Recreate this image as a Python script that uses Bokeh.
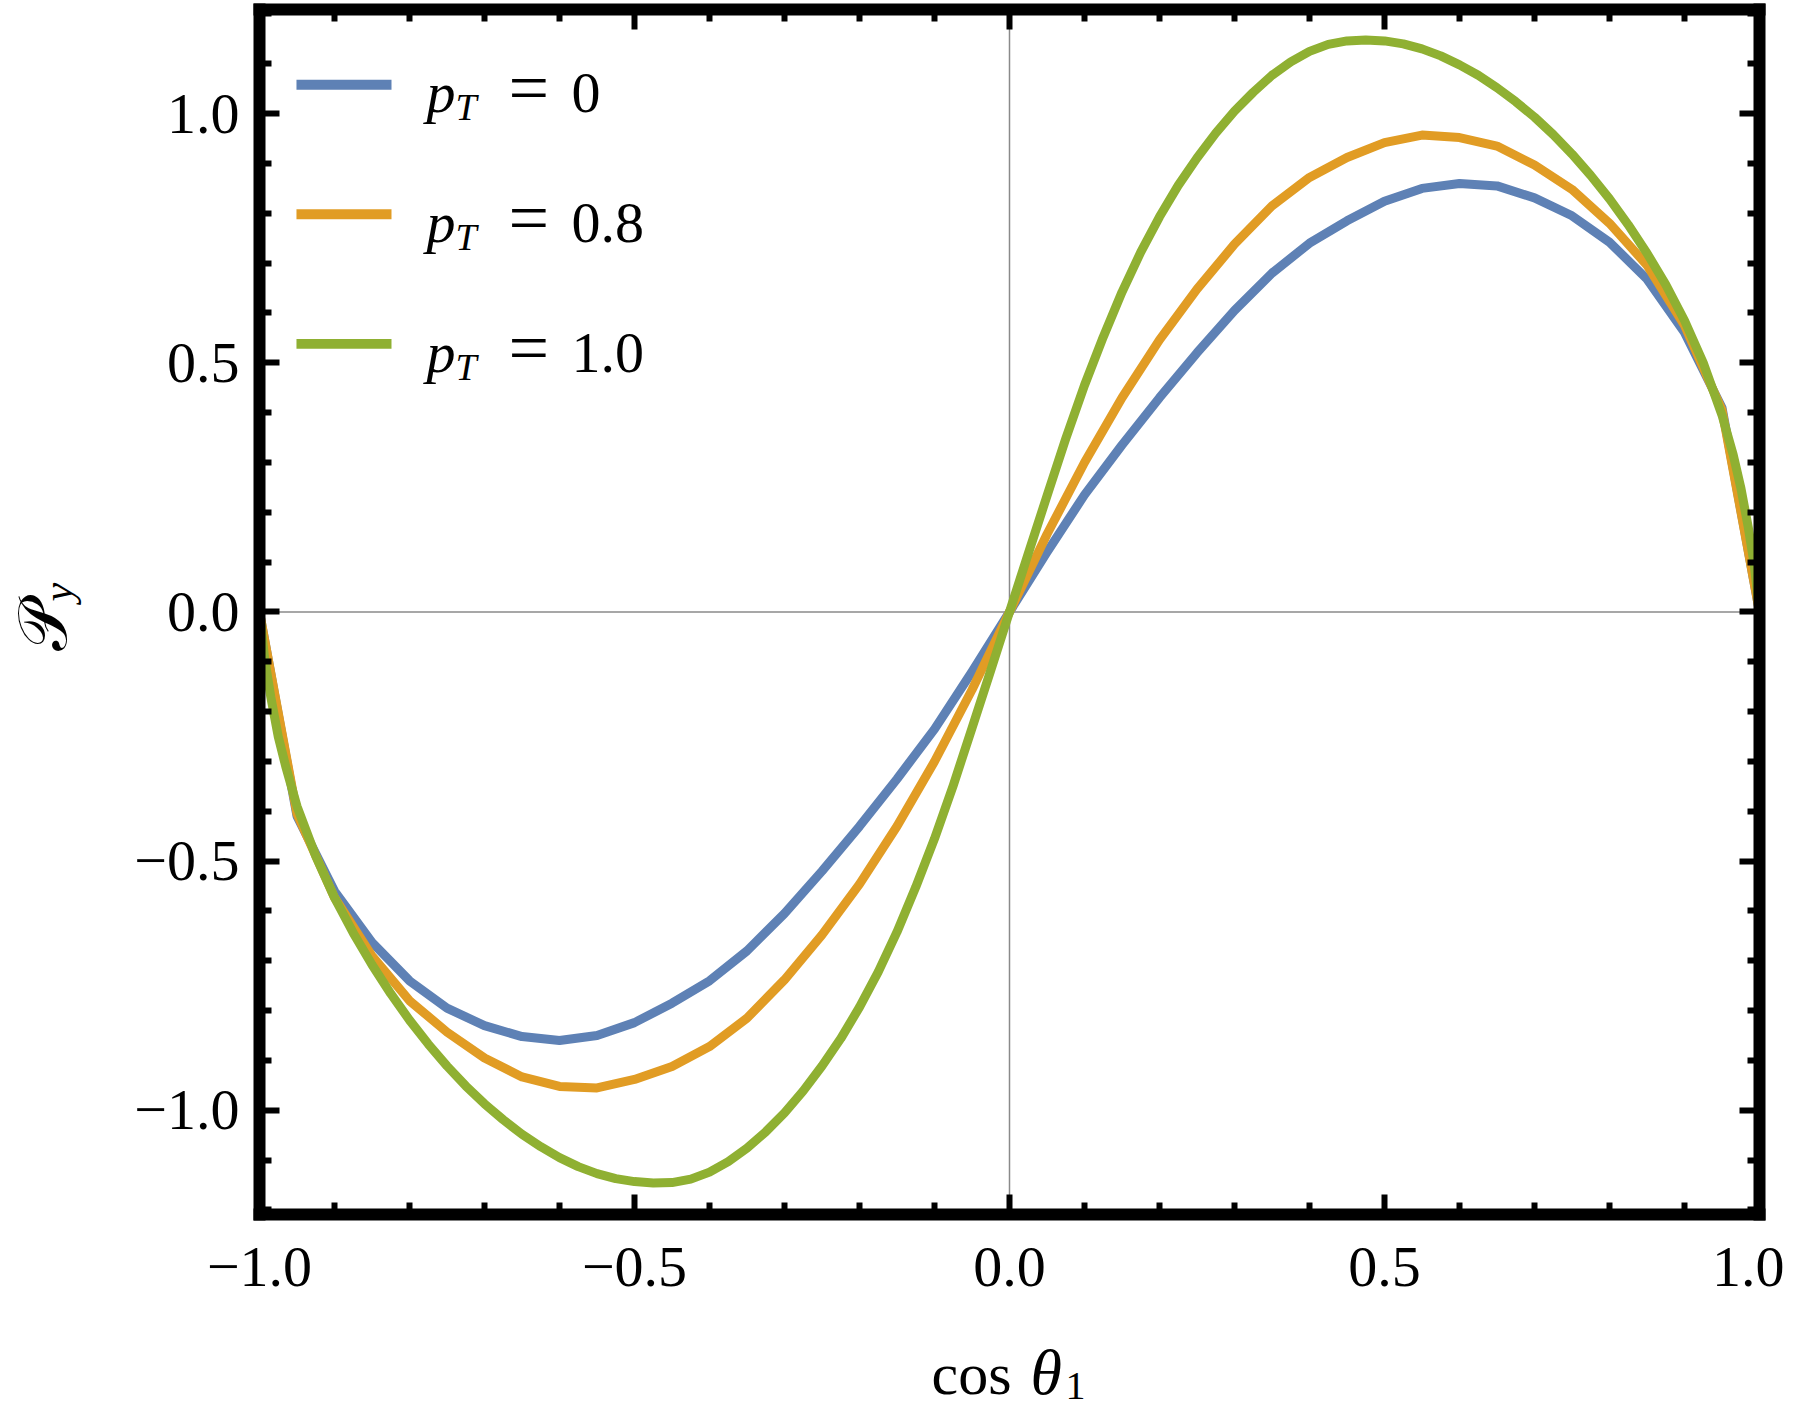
import math
from bokeh.plotting import figure
from bokeh.models import (Range1d, LinearAxis, FixedTicker, Label,
                          BoxAnnotation, CustomJSTickFormatter)
from bokeh.embed import file_html
from bokeh.resources import INLINE

# cos(theta_1) grid of the two sampled curves (p_T = 0 and p_T = 0.8)
cos_theta = [-1.0, -0.95, -0.9, -0.85, -0.8, -0.75, -0.7, -0.65, -0.6, -0.55, -0.5,
             -0.45, -0.4, -0.35, -0.3, -0.25, -0.2, -0.15, -0.1, -0.05, 0.0,
             0.05, 0.1, 0.15, 0.2, 0.25, 0.3, 0.35, 0.4, 0.45, 0.5,
             0.55, 0.6, 0.65, 0.7, 0.75, 0.8, 0.85, 0.9, 0.95, 1.0]
py_pt0 = [0.0, -0.41, -0.56, -0.663, -0.74, -0.795, -0.83, -0.852, -0.86, -0.85, -0.824,
          -0.785, -0.74, -0.68, -0.605, -0.52, -0.43, -0.335, -0.235, -0.12, 0.0,
          0.12, 0.235, 0.335, 0.43, 0.52, 0.605, 0.68, 0.74, 0.785, 0.824,
          0.85, 0.86, 0.855, 0.831, 0.795, 0.742, 0.668, 0.561, 0.41, 0.0]
py_pt08 = [0.0, -0.405, -0.573, -0.69, -0.78, -0.843, -0.895, -0.933, -0.952, -0.955, -0.938,
           -0.912, -0.872, -0.815, -0.738, -0.648, -0.546, -0.43, -0.30, -0.156, 0.0,
           0.156, 0.30, 0.43, 0.546, 0.648, 0.738, 0.815, 0.872, 0.912, 0.942,
           0.957, 0.952, 0.935, 0.897, 0.848, 0.78, 0.696, 0.575, 0.405, 0.0]

# finer grid for the smooth p_T = 1.0 curve
cos_theta_fine = [-1.0, -0.993, -0.985, -0.975, -0.965, -0.95, -0.925, -0.9, -0.875, -0.85,
                  -0.825, -0.8, -0.775, -0.75, -0.725, -0.7, -0.675, -0.65, -0.625, -0.6,
                  -0.575, -0.55, -0.525, -0.5, -0.475, -0.45, -0.425, -0.4, -0.375, -0.35,
                  -0.325, -0.3, -0.275, -0.25, -0.225, -0.2, -0.175, -0.15, -0.125, -0.1,
                  -0.075, -0.05, -0.025, 0.0,
                  0.025, 0.05, 0.075, 0.1, 0.125, 0.15, 0.175, 0.2, 0.225, 0.25,
                  0.275, 0.3, 0.325, 0.35, 0.375, 0.4, 0.425, 0.45, 0.475, 0.5,
                  0.525, 0.55, 0.575, 0.6, 0.625, 0.65, 0.675, 0.7, 0.725, 0.75,
                  0.775, 0.8, 0.825, 0.85, 0.875, 0.9, 0.925, 0.95, 0.965, 0.975,
                  0.985, 0.993, 1.0]
py_pt10 = [0.0, -0.095, -0.17, -0.25, -0.31, -0.39, -0.49, -0.573, -0.644, -0.708,
           -0.766, -0.819, -0.867, -0.911, -0.951, -0.987, -1.019, -1.048, -1.073, -1.095,
           -1.113, -1.127, -1.137, -1.143, -1.146, -1.145, -1.138, -1.124, -1.103, -1.076,
           -1.043, -1.005, -0.961, -0.911, -0.856, -0.793, -0.722, -0.642, -0.552, -0.455,
           -0.348, -0.233, -0.117, 0.0,
           0.117, 0.233, 0.348, 0.455, 0.552, 0.642, 0.722, 0.793, 0.856, 0.911,
           0.961, 1.005, 1.043, 1.077, 1.104, 1.125, 1.139, 1.146, 1.148, 1.146,
           1.140, 1.130, 1.116, 1.098, 1.077, 1.052, 1.024, 0.993, 0.958, 0.919,
           0.876, 0.829, 0.777, 0.72, 0.657, 0.585, 0.50, 0.395, 0.315, 0.25,
           0.17, 0.095, 0.0]

pt_labels = ["0", "0.8", "1.0"]
colors = ["#5E81B5", "#E19C24", "#8FB032"]

major_ticks = [-1.0, -0.5, 0.0, 0.5, 1.0]
x_minor = [-0.9, -0.8, -0.7, -0.6, -0.4, -0.3, -0.2, -0.1,
           0.1, 0.2, 0.3, 0.4, 0.6, 0.7, 0.8, 0.9]
y_minor = [-1.2, -1.1, -0.9, -0.8, -0.7, -0.6, -0.4, -0.3, -0.2, -0.1,
           0.1, 0.2, 0.3, 0.4, 0.6, 0.7, 0.8, 0.9, 1.1, 1.2]

# plotted box (the thick frame sits on these limits)
box_x = (-1.0, 1.0)
box_y = (-1.209, 1.209)

FONT = "Liberation Serif"
W, H = 1784, 1409

# the frame covers the whole canvas so the titles below/left are not clipped;
# the visible box is drawn by axes fixed at box_x / box_y
p = figure(width=W, height=H, output_backend="svg", toolbar_location=None,
           x_range=Range1d(-1.34533, 1.03333), y_range=Range1d(-1.60033, 1.22706),
           min_border=0)
p.grid.visible = False
p.outline_line_color = None
p.background_fill_color = "white"
p.border_fill_color = "white"

fmt = CustomJSTickFormatter(code="return tick.toFixed(1).replace('-', '\u2212')")
blank = CustomJSTickFormatter(code="return ''")


def style_axis(ax, minor, bounds, loc, labels=True):
    ax.fixed_location = loc
    ax.bounds = bounds
    ax.ticker = FixedTicker(ticks=major_ticks, minor_ticks=minor)
    ax.axis_line_width = 12
    ax.axis_line_color = "black"
    ax.axis_line_cap = "square"
    ax.major_tick_line_width = 6
    ax.minor_tick_line_width = 6
    ax.major_tick_in = 20
    ax.major_tick_out = 0
    ax.minor_tick_in = 12
    ax.minor_tick_out = 0
    if labels:
        ax.formatter = fmt
        ax.major_label_text_font = FONT
        ax.major_label_text_font_size = "58px"
        ax.major_label_text_color = "black"
    else:
        ax.formatter = blank
        ax.major_label_standoff = 0


style_axis(p.xaxis[0], x_minor, box_x, box_y[0])
style_axis(p.yaxis[0], y_minor, box_y, box_x[0])
p.xaxis[0].major_label_standoff = 34
p.yaxis[0].major_label_standoff = 20

top_axis = LinearAxis()
style_axis(top_axis, x_minor, box_x, box_y[1], labels=False)
p.add_layout(top_axis, "above")
right_axis = LinearAxis()
style_axis(right_axis, y_minor, box_y, box_x[1], labels=False)
p.add_layout(right_axis, "right")

# thin zero lines across the box
p.segment(x0=[box_x[0], 0.0], y0=[0.0, box_y[0]], x1=[box_x[1], 0.0], y1=[0.0, box_y[1]],
          line_color="#8a8a8a", line_width=1.5)

p.line(cos_theta, py_pt0, line_color=colors[0], line_width=9, line_join="round")
p.line(cos_theta, py_pt08, line_color=colors[1], line_width=9, line_join="round")
p.line(cos_theta_fine, py_pt10, line_color=colors[2], line_width=9, line_join="round")


def text_at(px, py, txt, size, style="normal", rotated=False):
    # px, py: baseline start on the canvas, from its top-left corner;
    # the label is anchored on its middle line, so shift by about a third of an em
    shift = 0.34 * size
    if rotated:
        x, y, angle = px - shift, py, math.pi / 2
    else:
        x, y, angle = px, py - shift, 0.0
    p.add_layout(Label(x=x, y=H - y, x_units="screen", y_units="screen",
                       text=txt, text_font=FONT, text_font_size=f"{size}px",
                       text_font_style=style, text_baseline="middle",
                       text_align="left", text_color="black", angle=angle))


# legend drawn by hand so that p_T can carry its subscript
legend_rows = [1.058, 0.798, 0.538]
for i, (row_y, c, lab) in enumerate(zip(legend_rows, colors, pt_labels)):
    p.add_layout(BoxAnnotation(left=-0.9507, right=-0.824, bottom=row_y - 0.01,
                               top=row_y + 0.01, fill_color=c, fill_alpha=1.0,
                               line_color=None))
    base = 112 + 130 * i
    text_at(426, base, "p", 58, "italic")
    text_at(455, base + 7, "T", 38, "italic")
    text_at(508, base, "=", 72)
    text_at(571, base, lab, 58)

# x axis title: cos theta_1
text_at(931, 1394, "cos", 60)
text_at(1030, 1394, "\u03b8", 64, "italic")
text_at(1065, 1399, "1", 40)

# y axis title: script P with subscript y
text_at(66, 650, "\U0001D4AB", 68, rotated=True)
text_at(72, 601, "y", 42, "italic", rotated=True)

open("out.html", "w").write(file_html(p, INLINE))
